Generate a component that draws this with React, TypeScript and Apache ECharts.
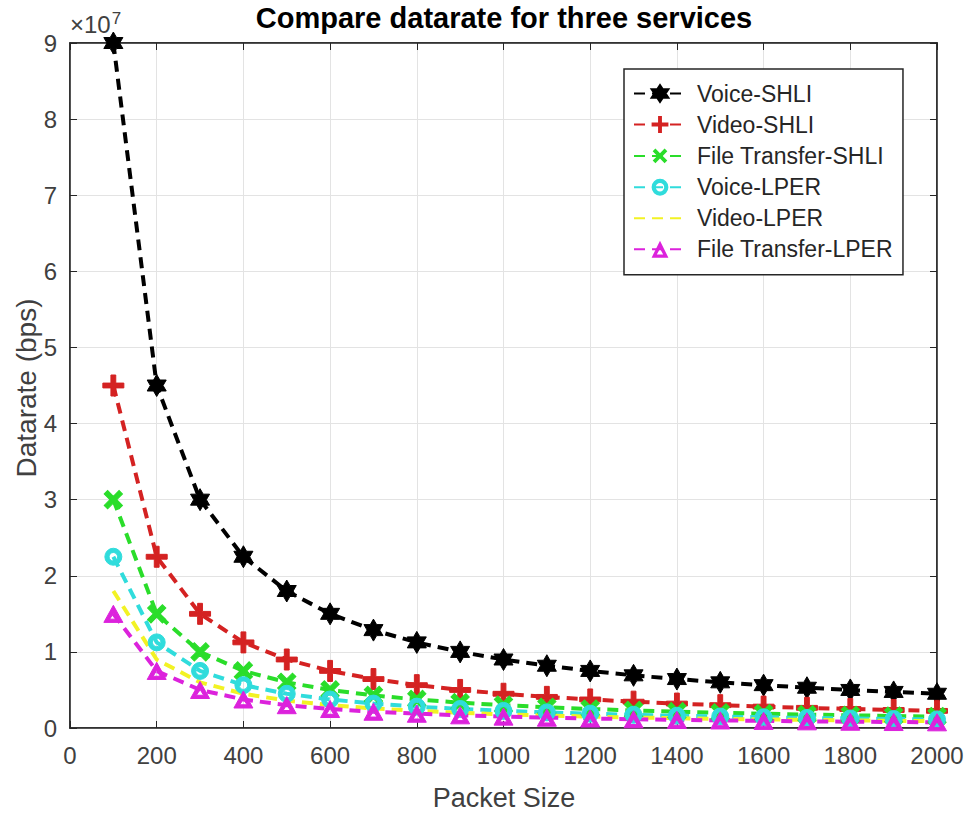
import React, { useEffect, useRef } from "react";
import * as echarts from "echarts";

const packetSize = [100, 200, 300, 400, 500, 600, 700, 800, 900, 1000, 1100, 1200, 1300, 1400, 1500, 1600, 1700, 1800, 1900, 2000];

const voiceSHLI = [9.0e7, 4.5e7, 3.0e7, 2.25e7, 1.8e7, 1.5e7, 1.286e7, 1.125e7, 1.0e7, 9.0e6, 8.18e6, 7.5e6, 6.92e6, 6.43e6, 6.0e6, 5.63e6, 5.29e6, 5.0e6, 4.74e6, 4.5e6];
const videoSHLI = [4.5e7, 2.25e7, 1.5e7, 1.125e7, 9.0e6, 7.5e6, 6.43e6, 5.63e6, 5.0e6, 4.5e6, 4.09e6, 3.75e6, 3.46e6, 3.21e6, 3.0e6, 2.81e6, 2.65e6, 2.5e6, 2.37e6, 2.25e6];
const fileSHLI = [3.0e7, 1.5e7, 1.0e7, 7.5e6, 6.0e6, 5.0e6, 4.29e6, 3.75e6, 3.33e6, 3.0e6, 2.73e6, 2.5e6, 2.31e6, 2.14e6, 2.0e6, 1.88e6, 1.76e6, 1.67e6, 1.58e6, 1.5e6];
const voiceLPER = [2.25e7, 1.125e7, 7.5e6, 5.63e6, 4.5e6, 3.75e6, 3.21e6, 2.81e6, 2.5e6, 2.25e6, 2.05e6, 1.88e6, 1.73e6, 1.61e6, 1.5e6, 1.41e6, 1.32e6, 1.25e6, 1.18e6, 1.13e6];
const videoLPER = [1.8e7, 9.0e6, 6.0e6, 4.5e6, 3.6e6, 3.0e6, 2.57e6, 2.25e6, 2.0e6, 1.8e6, 1.64e6, 1.5e6, 1.38e6, 1.29e6, 1.2e6, 1.13e6, 1.06e6, 1.0e6, 9.5e5, 9.0e5];
const fileLPER = [1.5e7, 7.5e6, 5.0e6, 3.75e6, 3.0e6, 2.5e6, 2.14e6, 1.88e6, 1.67e6, 1.5e6, 1.36e6, 1.25e6, 1.15e6, 1.07e6, 1.0e6, 9.4e5, 8.8e5, 8.3e5, 7.9e5, 7.5e5];

const seriesNames = ["Voice-SHLI", "Video-SHLI", "File Transfer-SHLI", "Voice-LPER", "Video-LPER", "File Transfer-LPER"];
const xTicks = { min: 0, max: 2000, interval: 200 };
const yTicks = { min: 0, max: 9e7, interval: 1e7 };

const FONT = 'Arial, "Liberation Sans", Helvetica, sans-serif';
const AXIS = "#262626";
const TXT = "#404040";

const HEX = "path://M0,-10 L2.887,-5 L8.66,-5 L5.77,0 L8.66,5 L2.887,5 L0,10 L-2.887,5 L-8.66,5 L-5.77,0 L-8.66,-5 L-2.887,-5 Z";
const PLUS = "path://M-2.3,-10 L2.3,-10 L2.3,-2.3 L10,-2.3 L10,2.3 L2.3,2.3 L2.3,10 L-2.3,10 L-2.3,2.3 L-10,2.3 L-10,-2.3 L-2.3,-2.3 Z";
const RING = "path://M-10,0 A10,10 0 1,0 10,0 A10,10 0 1,0 -10,0 Z M-5,0 A5,5 0 1,1 5,0 A5,5 0 1,1 -5,0 Z";
const TRI = "path://M0,-10 L10,8 L-10,8 Z M0,-1.5 L-3.8,4.6 L3.8,4.6 Z";
const NOMARK = "path://M0,0 L0.01,0.01 Z";

export default function App() {
  const ref = useRef<HTMLDivElement>(null);
  useEffect(() => {
    document.body.style.margin = "0";
    const chart = echarts.init(ref.current!, null, { renderer: "svg" });
    const mk = (arr: number[]) => packetSize.map((x, i) => [x, arr[i]]);
    const dash = [11, 7];
    const base = (name: string, data: number[], color: string, extra: any) => ({
      name,
      type: "line",
      data: mk(data),
      clip: false,
      color,
      lineStyle: { color, width: 4, type: dash },
      itemStyle: { color, borderColor: color },
      ...extra,
    });
    const series = [
      base(seriesNames[0], voiceSHLI, "#000000", { symbol: HEX, symbolSize: 22, symbolKeepAspect: true, itemStyle: { color: "#000", borderColor: "#000", borderWidth: 1 } }),
      base(seriesNames[1], videoSHLI, "#d42222", { symbol: PLUS, symbolSize: 21, symbolKeepAspect: true }),
      base(seriesNames[2], fileSHLI, "#2add2a", { symbol: PLUS, symbolSize: 21, symbolRotate: 45, symbolKeepAspect: true }),
      base(seriesNames[3], voiceLPER, "#30dcdc", { symbol: RING, symbolSize: 17, symbolKeepAspect: true }),
      base(seriesNames[4], videoLPER, "#f2f224", { symbol: NOMARK, showSymbol: false }),
      base(seriesNames[5], fileLPER, "#dc22dc", { symbol: TRI, symbolSize: 19, symbolKeepAspect: true }),
    ];
    chart.setOption({
      animation: false,
      backgroundColor: "#ffffff",
      textStyle: { fontFamily: FONT },
      grid: { left: 70, right: 31, top: 43, bottom: 85, show: true, borderColor: AXIS, borderWidth: 1.5, backgroundColor: "#fff" },
      xAxis: [
        {
          type: "value", ...xTicks, position: "bottom",
          axisLine: { show: true, onZero: false, lineStyle: { color: AXIS, width: 1.5 } },
          axisTick: { show: true, inside: true, length: 7, lineStyle: { color: AXIS } },
          axisLabel: { color: TXT, fontSize: 24, margin: 15, fontFamily: FONT, formatter: (v: number) => String(v) },
          splitLine: { show: true, lineStyle: { color: "#e3e3e3", width: 1 } },
        },
        {
          type: "value", ...xTicks, position: "top",
          axisLine: { show: true, onZero: false, lineStyle: { color: AXIS, width: 1.5 } },
          axisTick: { show: true, inside: true, length: 7, lineStyle: { color: AXIS } },
          axisLabel: { show: false },
          splitLine: { show: false },
        },
      ],
      yAxis: [
        {
          type: "value", ...yTicks, position: "left",
          axisLine: { show: true, onZero: false, lineStyle: { color: AXIS, width: 1.5 } },
          axisTick: { show: true, inside: true, length: 7, lineStyle: { color: AXIS } },
          axisLabel: { color: TXT, fontSize: 24, margin: 13, fontFamily: FONT, formatter: (v: number) => String(Math.round(v / 1e7)) },
          splitLine: { show: true, lineStyle: { color: "#e3e3e3", width: 1 } },
        },
        {
          type: "value", ...yTicks, position: "right",
          axisLine: { show: true, onZero: false, lineStyle: { color: AXIS, width: 1.5 } },
          axisTick: { show: true, inside: true, length: 7, lineStyle: { color: AXIS } },
          axisLabel: { show: false },
          splitLine: { show: false },
        },
      ],
      legend: {
        data: seriesNames,
        orient: "vertical",
        left: 624,
        top: 69,
        backgroundColor: "#ffffff",
        borderColor: AXIS,
        borderWidth: 1.5,
        borderRadius: 0,
        padding: [13, 10, 14, 9],
        itemGap: 8,
        itemWidth: 52,
        itemHeight: 21,
        textStyle: { fontSize: 23, color: "#262626", fontFamily: FONT, padding: [0, 0, 0, 6] },
      },
      graphic: [
        { type: "text", x: 504, y: 18, style: { text: "Compare datarate for three services", font: `bold 29px ${FONT}`, fill: "#000", textAlign: "center", textVerticalAlign: "middle" } },
        { type: "text", x: 504, y: 798, style: { text: "Packet Size", font: `27px ${FONT}`, fill: TXT, textAlign: "center", textVerticalAlign: "middle" } },
        { type: "text", x: 26, y: 388, rotation: Math.PI / 2, style: { text: "Datarate (bps)", font: `28px ${FONT}`, fill: TXT, textAlign: "center", textVerticalAlign: "middle" } },
        {
          type: "text", x: 70, y: 39,
          style: {
            text: "×10{sup|7}",
            font: `24px ${FONT}`,
            fill: TXT,
            textVerticalAlign: "bottom",
            rich: { sup: { fontSize: 17, fontFamily: FONT, fill: TXT, verticalAlign: "top", padding: [0, 0, 12, 1] } },
          },
        },
      ],
      series,
    });
    return () => chart.dispose();
  }, []);
  return <div ref={ref} style={{ width: 968, height: 813 }} />;
}
